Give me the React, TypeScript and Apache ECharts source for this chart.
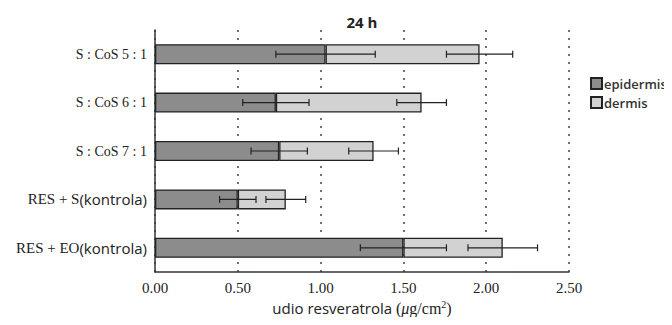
import React, { useEffect, useRef } from "react";
import * as echarts from "echarts";

const categories = ["S : CoS 5 : 1", "S : CoS 6 : 1", "S : CoS 7 : 1", "RES + S|(kontrola)", "RES + EO|(kontrola)"];
const epidermis = [1.03, 0.73, 0.75, 0.5, 1.5];
const dermis = [0.93, 0.88, 0.57, 0.29, 0.6];
const epidermisErr = [0.3, 0.2, 0.17, 0.11, 0.26];
const totalErr = [0.2, 0.15, 0.15, 0.12, 0.21];
const xTicks = [0, 0.5, 1.0, 1.5, 2.0, 2.5];

export default function App() {
  const ref = useRef<HTMLDivElement>(null);
  useEffect(() => {
    if (!ref.current) return;
    const chart = echarts.init(ref.current, null, { renderer: "svg" });
    const errData: number[][] = [];
    categories.forEach((_, i) => {
      errData.push([i, epidermis[i], epidermisErr[i]]);
      errData.push([i, epidermis[i] + dermis[i], totalErr[i]]);
    });
    const serif = "'Liberation Serif', 'DejaVu Serif', serif";
    const sans = "'Open Sans', 'Liberation Sans', sans-serif";
    chart.setOption({
      animation: false,
      backgroundColor: "#ffffff",
      title: {
        text: "24 h",
        left: 357,
        top: 9,
        textAlign: "center",
        textStyle: { fontFamily: sans, fontSize: 15, fontWeight: "bold", color: "#222" },
      },
      legend: {
        orient: "vertical",
        left: 585,
        top: 72,
        itemWidth: 11,
        itemHeight: 11,
        itemGap: 6,
        icon: "rect",
        data: ["epidermis", "dermis"],
        textStyle: { fontFamily: sans, fontSize: 13, fontWeight: 600, color: "#333", padding: [0, 0, 0, -3] },
      },
      grid: { left: 155, right: 103, top: 30, bottom: 53 },
      xAxis: {
        type: "value",
        min: 0,
        max: 2.5,
        interval: 0.5,
        name: "{a|udio resveratrola }{b|(}{c|μ}{b|g/cm}{s|2}{b|)}",
        nameLocation: "middle",
        nameGap: 26,
        nameTextStyle: {
          rich: {
            a: { fontFamily: sans, fontSize: 15, color: "#222" },
            b: { fontFamily: serif, fontSize: 16, color: "#222" },
            c: { fontFamily: serif, fontSize: 16, fontStyle: "italic", color: "#222" },
            s: { fontFamily: serif, fontSize: 10, color: "#222", verticalAlign: "top", padding: [0, 0, 7, 0] },
          },
        },
        axisLine: { show: true, lineStyle: { color: "#333", width: 1.5 } },
        axisTick: { show: false },
        axisLabel: {
          margin: 8,
          fontFamily: serif,
          fontSize: 15,
          color: "#222",
          formatter: (v: number) => (xTicks.includes(v) ? v.toFixed(2) : ""),
        },
        splitLine: { show: true, lineStyle: { color: "#444", type: [2, 6], width: 1.5 } },
      },
      yAxis: {
        type: "category",
        data: categories,
        inverse: true,
        axisLine: { show: true, lineStyle: { color: "#333", width: 1.5 } },
        axisTick: { show: false },
        axisLabel: {
          margin: 8,
          formatter: (v: string) => {
            const parts = v.split("|");
            return parts.length > 1 ? `{c|${parts[0]}}{b|${parts[1]}}` : `{a|${parts[0]}}`;
          },
          rich: {
            a: { fontFamily: serif, fontSize: 14, color: "#222" },
            c: { fontFamily: serif, fontSize: 15, color: "#222" },
            b: { fontFamily: sans, fontSize: 15, color: "#222" },
          },
        },
      },
      series: [
        {
          name: "epidermis",
          type: "bar",
          stack: "t",
          barWidth: 20,
          data: epidermis,
          itemStyle: { color: "#8c8c8c", borderColor: "#222", borderWidth: 1.3 },
        },
        {
          name: "dermis",
          type: "bar",
          stack: "t",
          barWidth: 20,
          data: dermis,
          itemStyle: { color: "#d2d2d2", borderColor: "#222", borderWidth: 1.3 },
        },
        {
          type: "custom",
          data: errData,
          encode: { x: 1, y: 0 },
          z: 10,
          renderItem: (params: any, api: any) => {
            const i = api.value(0);
            const c = api.value(1);
            const e = api.value(2);
            const lo = api.coord([c - e, i]);
            const hi = api.coord([c + e, i]);
            const h = 3.5;
            const style = { stroke: "#222", lineWidth: 1.2 };
            return {
              type: "group",
              children: [
                { type: "line", shape: { x1: lo[0], y1: lo[1], x2: hi[0], y2: hi[1] }, style },
                { type: "line", shape: { x1: lo[0], y1: lo[1] - h, x2: lo[0], y2: lo[1] + h }, style },
                { type: "line", shape: { x1: hi[0], y1: hi[1] - h, x2: hi[0], y2: hi[1] + h }, style },
              ],
            };
          },
        },
      ],
    });
    return () => chart.dispose();
  }, []);
  return <div ref={ref} style={{ width: 672, height: 325, margin: -8 }} />;
}
